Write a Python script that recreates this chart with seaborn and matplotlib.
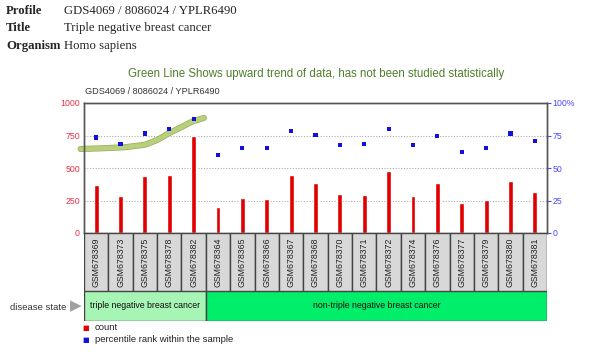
import numpy as np
import pandas as pd
import matplotlib
matplotlib.use("Agg")
import matplotlib.pyplot as plt
import matplotlib.patheffects as pe
import seaborn as sns

# data
samples = ["GSM678369", "GSM678373", "GSM678375", "GSM678378", "GSM678382",
           "GSM678364", "GSM678365", "GSM678366", "GSM678367", "GSM678368",
           "GSM678370", "GSM678371", "GSM678372", "GSM678374", "GSM678376",
           "GSM678377", "GSM678379", "GSM678380", "GSM678381"]
counts = [372, 287, 441, 448, 748, 202, 266, 259, 448, 385,
          297, 292, 474, 287, 385, 231, 254, 400, 315]
percentiles = [73.5, 68.5, 76.6, 79.7, 87.7, 59.7, 65.4, 65.4, 78.7, 75.6,
               67.7, 68.5, 80.0, 67.7, 74.6, 62.0, 65.4, 76.6, 71.0]
groups = ["triple negative breast cancer", "non-triple negative breast cancer"]
group_sizes = [5, 14]
# trend line (category position, count units)
trend_x = [-0.64, 0.3, 1.2, 2.0, 2.5, 3.0, 3.5, 3.95, 4.42]
trend_y = [646, 652, 660, 679, 715, 769, 815, 858, 885]

W, H = 594, 358
fig = plt.figure(figsize=(W / 100, H / 100), dpi=100)
sns.set_style("white")
plt.rcParams["font.family"] = ["Liberation Sans", "DejaVu Sans"]

def box(l, t, r, b):
    return [l / W, 1 - b / H, (r - l) / W, (b - t) / H]

# header text
serif = ["Liberation Serif", "DejaVu Serif"]
for i, (k, v) in enumerate([("Profile", "GDS4069 / 8086024 / YPLR6490"),
                            ("Title", "Triple negative breast cancer"),
                            ("Organism", "Homo sapiens")]):
    y = 1 - (10.5 + 17.5 * i) / H
    fig.text(6 / W, y, k, family=serif, fontweight="bold", fontsize=9.2, va="center")
    fig.text(64 / W, y, v, family=serif, fontsize=9.2, va="center")

fig.text(316 / W, 1 - 74 / H,
         "Green Line Shows upward trend of data, has not been studied statistically",
         color="#4f7f2a", fontsize=8.3, ha="center", va="center")
fig.text(85 / W, 1 - 92 / H, "GDS4069 / 8086024 / YPLR6490",
         color="#333333", fontsize=6.6, va="center")

# main chart
ax = fig.add_axes(box(84, 103, 547, 233))
df = pd.DataFrame({"sample": samples, "count": counts, "pct": percentiles})
sns.barplot(data=df, x="sample", y="count", color="#e00000", width=0.2,
            saturation=1, ax=ax)
ax.set_xlim(-0.5, len(samples) - 0.5)
ax.set_ylim(0, 1000)
ax.set_yticks([0, 250, 500, 750, 1000])
ax.set_xticks([])
ax.set_xlabel("")
ax.set_ylabel("")
ax.tick_params(axis="y", colors="#e8304a", labelsize=6.3, length=0, pad=3)
for v in [250, 500, 750]:
    ax.axhline(v, color="#aaaaaa", lw=0.8, ls=(0, (1, 1.5)), zorder=0)
for s in ax.spines.values():
    s.set_color("#555555")
    s.set_linewidth(1)

ln = sns.lineplot(x=trend_x, y=trend_y, sort=False, estimator=None,
                  color="#b9cf7c", lw=3.4, ax=ax, clip_on=False)
ln.lines[-1].set_path_effects([pe.Stroke(linewidth=4.4, foreground="#94ad5c"),
                               pe.Normal()])
ln.lines[-1].set_solid_capstyle("round")

ax2 = ax.twinx()
sns.scatterplot(data=df, x="sample", y="pct", marker="s", s=9,
                color="#1010e0", edgecolor="none", ax=ax2)
ax2.set_ylim(0, 100)
ax2.set_yticks([0, 25, 50, 75, 100])
ax2.set_yticklabels(["0", "25", "50", "75", "100%"])
ax2.set_ylabel("")
ax2.tick_params(axis="y", colors="#4a4aff", labelsize=6.3, length=3,
                width=0.8, pad=1)
for s in ax2.spines.values():
    s.set_linewidth(1)
    s.set_color("#555555")

# sample label strip
axl = fig.add_axes(box(84, 233, 547, 291))
n = len(samples)
axl.bar(np.arange(n), [1] * n, width=1, color="#d8d8d8",
        edgecolor="#444444", linewidth=1)
for i, s in enumerate(samples):
    axl.text(i, 0.5, s, rotation=90, ha="center", va="center",
             fontsize=6.3, color="#222222")
axl.set_xlim(-0.5, n - 0.5)
axl.set_ylim(0, 1)
axl.axis("off")

# disease state strip
axd = fig.add_axes(box(84, 291, 547, 321))
starts = np.cumsum([0] + group_sizes[:-1]) - 0.5
axd.barh([0.5, 0.5], group_sizes, left=starts, height=1,
         color=["#a6f5b4", "#00ee6a"], edgecolor="#444444", linewidth=1)
for st, w, g in zip(starts, group_sizes, groups):
    axd.text(st + w / 2, 0.5, g, ha="center", va="center",
             fontsize=6.3, color="#111111")
axd.set_xlim(-0.5, n - 0.5)
axd.set_ylim(0, 1)
axd.axis("off")

fig.text(66 / W, 1 - 307 / H, "disease state", ha="right", va="center",
         fontsize=6.8, color="#333333")
fig.text(76 / W, 1 - 306 / H, "\u25B6", ha="center", va="center",
         fontsize=11, color="#a0a0a0", family=["DejaVu Sans"])

# legend
for j, (lab, c) in enumerate([("count", "#e00000"),
                              ("percentile rank within the sample", "#1010e0")]):
    y = 1 - (328 + 12 * j) / H
    fig.text(86 / W, y, "\u25A0", color=c, fontsize=5, ha="center",
             va="center", family=["DejaVu Sans"])
    fig.text(95 / W, y, lab, fontsize=6.8, color="#222222", va="center")

fig.savefig("out.png", dpi=100)
